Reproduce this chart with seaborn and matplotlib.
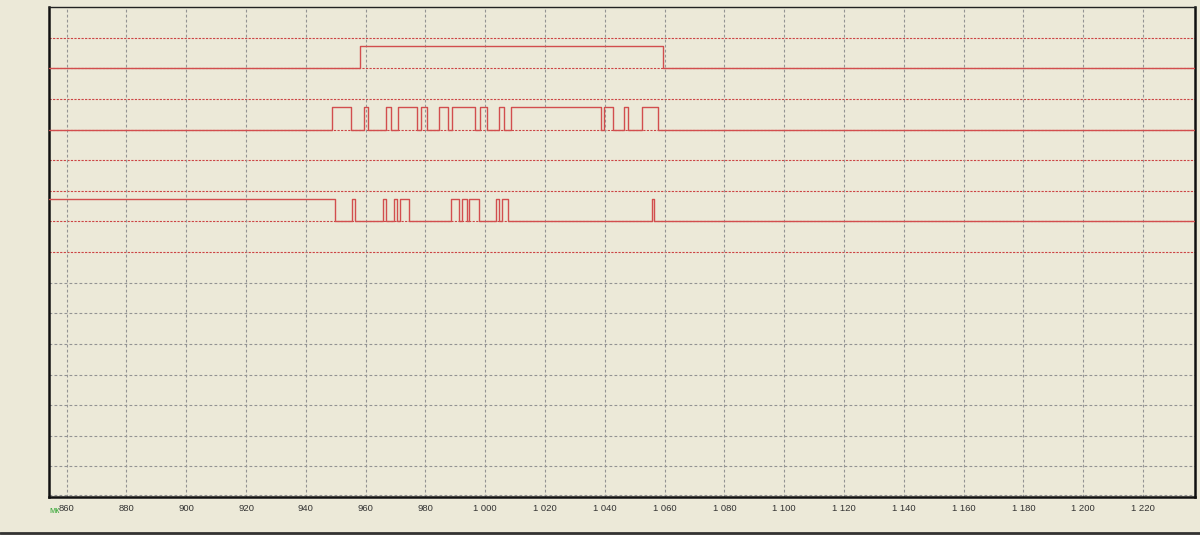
import matplotlib
matplotlib.use("Agg")
import matplotlib.pyplot as plt
import seaborn as sns
import pandas as pd
from matplotlib.ticker import MultipleLocator, FuncFormatter

# ---- data (time in us) ----
x_start = 854.1
x_end = 1237.4
# channel A: starts low
chA_edges = [958.1, 1059.3]
# channel B: starts low
chB_edges = [948.8, 955.0, 959.5, 960.9, 966.8, 968.4, 970.9, 977.1, 978.5, 980.4,
             984.5, 987.6, 988.8, 996.6, 998.2, 1000.5, 1004.6, 1006.3, 1008.5, 1038.7,
             1039.8, 1042.6, 1046.5, 1047.6, 1052.5, 1057.7]
# channel C: starts high
chC_edges = [949.7, 955.5, 956.4, 965.9, 966.8, 969.5, 970.5, 971.5, 974.6,
             988.5, 991.2, 992.1, 993.8, 994.6, 998.0, 1003.6, 1004.7, 1005.6, 1007.7,
             1055.7, 1056.5]
channel_base = {"A": 14, "B": 12, "C": 9}
channel_start = {"A": 0, "B": 0, "C": 1}
channel_edges = {"A": chA_edges, "B": chB_edges, "C": chC_edges}
pulse_height = 0.72

tick_values = list(range(860, 1221, 20))

BG = "#ECE9D8"
TRACE = "#D24E4E"
REDGRID = "#CC4444"
GRAY = "#939393"

def fmt(v, pos):
    v = int(round(v))
    return f"{v:,}".replace(",", " ")

fig = plt.figure(figsize=(12, 5.35), dpi=100, facecolor=BG)
sns.set_style("white")
plt.rcParams["font.family"] = ["Liberation Sans", "DejaVu Sans"]
ax = fig.add_axes([49/1200, 1-497/535, (1195-49)/1200, (497-7)/535])
ax.set_facecolor(BG)

# grid lines
for v in range(1, 16):
    if v >= 8:
        ax.axhline(v, color=REDGRID, lw=0.8, ls=(0, (2, 1.2)), zorder=1)
    else:
        ax.axhline(v, color=GRAY, lw=0.8, ls=(0, (2.5, 2)), zorder=1)
ax.axhline(0.06, color=GRAY, lw=0.8, ls=(0, (2.5, 2)), zorder=1)
for t in tick_values:
    ax.axvline(t, color=GRAY, lw=0.8, ls=(0, (2.5, 2)), zorder=1)

# traces
for name, edges in channel_edges.items():
    times = [x_start] + list(edges) + [x_end]
    s = channel_start[name]
    states = [s]
    for _ in edges:
        s = 1 - s
        states.append(s)
    states.append(s)
    levels = [channel_base[name] + pulse_height * st for st in states]
    df = pd.DataFrame({"t": times, "y": levels})
    sns.lineplot(data=df, x="t", y="y", ax=ax, drawstyle="steps-post",
                 estimator=None, sort=False, color=TRACE, lw=1.0, zorder=3)

ax.set_xlim(x_start, x_end)
ax.set_ylim(0, 16)
ax.set_xlabel("")
ax.set_ylabel("")
ax.set_yticks([])
ax.xaxis.set_minor_locator(MultipleLocator(5))
ax.set_xticks(tick_values)
ax.xaxis.set_major_formatter(FuncFormatter(fmt))
ax.tick_params(axis="x", which="major", length=3, width=0.6, color="#555555",
               labelsize=6.8, labelcolor="#333333", pad=2, direction="out")
ax.tick_params(axis="x", which="minor", length=2, width=0.5, color="#777777", direction="out")
for side in ["left", "bottom", "right"]:
    ax.spines[side].set_linewidth(1.8)
    ax.spines[side].set_color("#111111")
ax.spines["top"].set_linewidth(1.0)
ax.spines["top"].set_color("#222222")

ax.text(0.0, -0.018, "мк", transform=ax.transAxes, color="#3DAA3D", fontsize=6.5,
        ha="left", va="top")

# window border at bottom
fig.add_artist(plt.Line2D([0, 1], [2.5/535, 2.5/535], color="#333333", lw=2,
                          transform=fig.transFigure))

fig.savefig("out.png", dpi=100, facecolor=BG)
